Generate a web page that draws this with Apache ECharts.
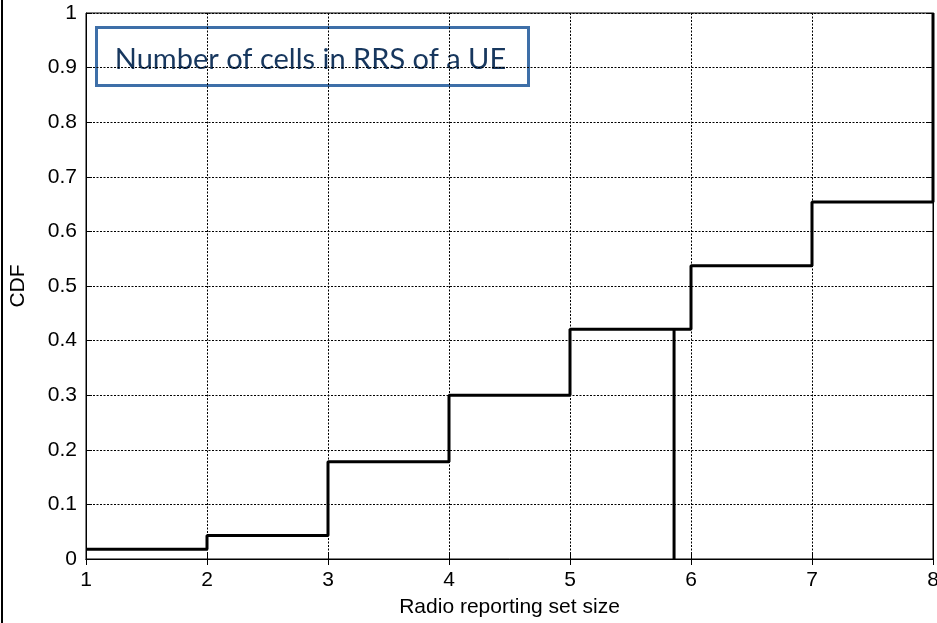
<!DOCTYPE html>
<html>
<head>
<meta charset="utf-8">
<script src="https://cdn.jsdelivr.net/npm/echarts@6/dist/echarts.min.js"></script>
<style>html,body{margin:0;padding:0;background:#fff}#c{width:937px;height:623px}</style>
</head>
<body>
<div id="c"></div>
<script>
const titleText = 'Number of cells in RRS of a UE';
const xName = 'Radio reporting set size';
const yName = 'CDF';
const setSizes = [1, 2, 3, 4, 5, 6, 7, 8];
const cdfValues = [0.018, 0.043, 0.178, 0.300, 0.421, 0.537, 0.654, 1.0];
const dropX = [5.86, 5.86];
const dropY = [0.421, 0];

const chart = echarts.init(document.getElementById('c'));
const font = '"Liberation Sans", Arial, sans-serif';
const tickStyle = {show: true, inside: true, length: 6, lineStyle: {color: '#000', width: 1}};
chart.setOption({
  animation: false,
  backgroundColor: '#fff',
  grid: {left: 86, right: 4, top: 13, bottom: 64, show: true, borderColor: '#000', borderWidth: 1, containLabel: false, outerBoundsMode: 'none'},
  xAxis: [{
    type: 'value', min: 1, max: 8, interval: 1,
    name: xName, nameLocation: 'middle', nameGap: 38,
    nameTextStyle: {fontFamily: font, fontSize: 21, color: '#000'},
    axisLine: {show: true, onZero: false, lineStyle: {color: '#000', width: 1}},
    axisTick: tickStyle,
    axisLabel: {fontFamily: font, fontSize: 21, color: '#000', margin: 11, showMaxLabel: true, showMinLabel: true},
    splitLine: {show: true, lineStyle: {color: '#000', type: [2, 1.5], width: 1}}
  }, {
    type: 'value', min: 1, max: 8, interval: 1, position: 'top',
    axisLine: {show: true, lineStyle: {color: '#000'}}, axisTick: tickStyle,
    axisLabel: {show: false}, splitLine: {show: false}
  }],
  yAxis: [{
    type: 'value', min: 0, max: 1, interval: 0.1,
    name: yName, nameLocation: 'middle', nameGap: 57, nameRotate: 90,
    nameTextStyle: {fontFamily: font, fontSize: 21, color: '#000'},
    axisLine: {show: true, onZero: false, lineStyle: {color: '#000', width: 1}},
    axisTick: tickStyle,
    axisLabel: {fontFamily: font, fontSize: 21, color: '#000', margin: 9, formatter: v => String(Math.round(v * 10) / 10)},
    splitLine: {show: true, lineStyle: {color: '#000', type: [2, 1.5], width: 1}}
  }, {
    type: 'value', min: 0, max: 1, interval: 0.1, position: 'right',
    axisLine: {show: true, lineStyle: {color: '#000'}}, axisTick: tickStyle,
    axisLabel: {show: false}, splitLine: {show: false}
  }],
  series: [{
    type: 'line', step: 'end', symbol: 'none',
    data: setSizes.map((x, i) => [x, cdfValues[i]]),
    lineStyle: {color: '#000', width: 3}, clip: false
  }, {
    type: 'line', symbol: 'none',
    data: dropX.map((x, i) => [x, dropY[i]]),
    lineStyle: {color: '#000', width: 3}
  }],
  graphic: [
    {type: 'rect', left: 1, top: 0, shape: {width: 2, height: 623}, style: {fill: '#000'}},
    {type: 'group', left: 95, top: 26, children: [
      {type: 'rect', shape: {x: 0, y: 0, width: 432, height: 58}, style: {fill: '#fff', stroke: '#3E6FA8', lineWidth: 3}},
      {type: 'text', x: 214, y: 32, style: {text: titleText, fontFamily: 'Lato, "Noto Sans", sans-serif', fontSize: 29, fill: '#17375E', align: 'center', verticalAlign: 'middle'}}
    ]}
  ]
});
</script>
</body>
</html>
